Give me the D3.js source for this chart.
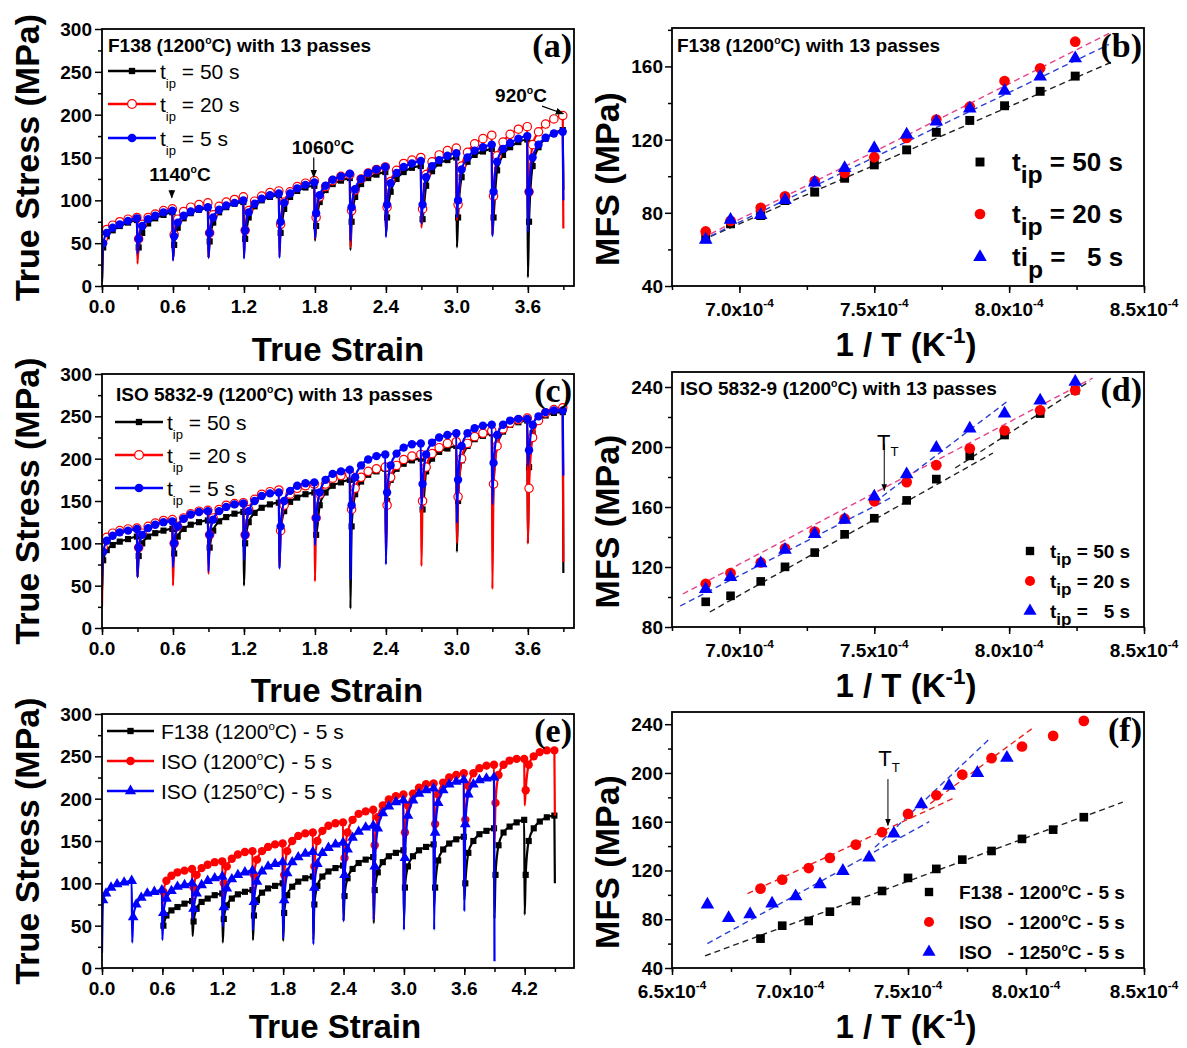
<!DOCTYPE html>
<html>
<head>
<meta charset="utf-8">
<script src="https://cdn.jsdelivr.net/npm/d3@7"></script>
<style>
body { margin: 0; background: #fff; }
svg text { font-family: "Liberation Sans", Arial, sans-serif; }
</style>
</head>
<body>
<script>
// ---------- data ----------
// every pass is 0.3 strain long, values read at these offsets inside a pass
const passOffsets = [0.01, 0.04, 0.09, 0.15, 0.22, 0.295];
const passStep = 0.3;

const strainTicks = [0, 0.6, 1.2, 1.8, 2.4, 3.0, 3.6];
const strainTicksE = [0, 0.6, 1.2, 1.8, 2.4, 3.0, 3.6, 4.2];
const stressTicks = [0, 50, 100, 150, 200, 250, 300];
const invTTicks = [7.0, 7.5, 8.0, 8.5];
const invTTicksF = [6.5, 7.0, 7.5, 8.0, 8.5];
const mfsTicksB = [40, 80, 120, 160];
const mfsTicksD = [80, 120, 160, 200, 240];
const mfsTicksF = [40, 80, 120, 160, 200, 240];

// (a) F138 1200C, 13 passes
const a50Start = 5;
const a50Passes = [
  [45, 58, 65, 70, 74, 77], [45, 62, 73, 79, 83, 86], [48, 68, 79, 85, 89, 91],
  [52, 74, 86, 92, 96, 98], [55, 80, 93, 100, 104, 106], [62, 90, 104, 111, 115, 117],
  [70, 98, 112, 119, 123, 126], [75, 104, 119, 126, 130, 133], [80, 110, 125, 133, 138, 140],
  [78, 117, 134, 143, 147, 150], [80, 127, 145, 153, 157, 160], [80, 135, 153, 162, 168, 171],
  [75, 140, 162, 172, 178, 182]];
const a50Drops = [35, 32, 33, 49, 53, 53, 42, 60, 72, 45, 60, 10, 112];

const a20Start = 10;
const a20Passes = [
  [55, 66, 71, 75, 78, 80], [55, 72, 80, 84, 88, 90], [60, 78, 87, 92, 95, 97],
  [62, 83, 93, 98, 101, 104], [65, 88, 99, 105, 109, 111], [72, 98, 110, 116, 120, 123],
  [80, 104, 116, 123, 128, 130], [88, 112, 125, 132, 136, 139], [92, 122, 135, 143, 147, 150],
  [90, 130, 145, 153, 158, 161], [95, 140, 156, 166, 172, 176], [105, 152, 168, 177, 183, 186],
  [110, 165, 180, 189, 195, 199]];
const a20Drops = [26, 30, 33, 35, 35, 55, 45, 60, 68, 77, 60, 75, 67];

const a5Start = 8;
const a5Passes = [
  [50, 62, 68, 72, 76, 79], [55, 70, 78, 82, 86, 88], [58, 74, 82, 87, 90, 92],
  [62, 80, 89, 94, 97, 100], [65, 86, 96, 102, 106, 108], [75, 97, 108, 114, 118, 121],
  [85, 106, 117, 124, 128, 131], [92, 113, 125, 132, 136, 139], [95, 120, 132, 139, 143, 146],
  [95, 127, 140, 147, 152, 155], [100, 136, 150, 158, 162, 165], [110, 145, 160, 167, 172, 175],
  [110, 150, 165, 173, 178, 180]];
const a5Drops = [38, 30, 33, 32, 33, 56, 53, 57, 73, 80, 58, 63, 100];

// (c) ISO 5832-9 1200C, 13 passes
const c50Start = 45;
const c50Passes = [
  [80, 92, 98, 102, 105, 108], [85, 100, 108, 112, 115, 117], [88, 108, 117, 122, 125, 127],
  [95, 115, 126, 131, 135, 137], [100, 125, 136, 142, 146, 148], [115, 138, 149, 154, 158, 160],
  [110, 145, 160, 168, 172, 175], [120, 158, 173, 181, 185, 188], [150, 175, 188, 194, 198, 200],
  [140, 185, 200, 208, 212, 215], [150, 198, 215, 223, 227, 230], [170, 215, 232, 240, 243, 245],
  [190, 230, 245, 251, 254, 255]];
const c50Drops = [60, 78, 82, 50, 72, 110, 23, 100, 140, 90, 125, 100, 65];

const c20Start = 25;
const c20Passes = [
  [95, 107, 112, 115, 117, 118], [95, 112, 120, 124, 127, 128], [100, 120, 130, 135, 138, 139],
  [110, 130, 140, 145, 147, 148], [110, 140, 152, 158, 161, 163], [115, 145, 158, 165, 168, 170],
  [130, 158, 170, 177, 180, 182], [140, 165, 178, 185, 188, 190], [145, 178, 192, 199, 203, 205],
  [150, 190, 206, 213, 218, 220], [155, 200, 218, 226, 230, 233], [170, 215, 235, 242, 246, 248],
  [165, 225, 245, 254, 258, 260]];
const c20Drops = [60, 50, 64, 100, 75, 55, 130, 85, 73, 100, 46, 100, 78];

const c5Start = 50;
const c5Passes = [
  [90, 103, 109, 113, 115, 117], [95, 110, 118, 122, 125, 126], [100, 120, 129, 134, 137, 138],
  [110, 128, 138, 143, 146, 147], [110, 138, 150, 156, 159, 160], [120, 150, 162, 168, 171, 172],
  [130, 160, 175, 182, 185, 187], [145, 178, 192, 199, 203, 205], [160, 192, 206, 213, 217, 218],
  [170, 205, 219, 225, 228, 230], [175, 215, 230, 236, 239, 240], [195, 228, 240, 245, 247, 247],
  [210, 240, 250, 255, 257, 257]];
const c5Drops = [60, 72, 67, 80, 70, 98, 57, 75, 140, 124, 146, 192, 180];

// (e) ISO 1250C, 5 s (F138 and ISO 1200C curves are the 5 s runs above, started at 0.6)
const e1250Start = 18;
const e1250Passes = [
  [80, 88, 95, 99, 101, 103], [60, 75, 83, 88, 90, 92], [65, 82, 91, 96, 98, 100],
  [70, 88, 98, 103, 106, 108], [72, 94, 105, 110, 113, 115], [78, 102, 114, 120, 123, 125],
  [80, 112, 125, 131, 135, 137], [95, 123, 136, 142, 146, 148], [110, 140, 154, 161, 166, 168],
  [120, 165, 183, 191, 196, 198], [130, 180, 198, 206, 210, 212], [160, 195, 210, 217, 220, 222],
  [170, 205, 217, 222, 224, 225]];
const e1250Drops = [30, 33, 58, 49, 45, 35, 28, 55, 57, 45, 45, 67, 8];
const eStartStrain = { f138: 0.6, iso1200: 0.6, iso1250: 0 };
const eStartStress = { f138: 45, iso1200: 70, iso1250: e1250Start };

// MFS vs 1/T (units of 1e-4 K^-1)
const invT = [6.875, 6.967, 7.079, 7.169, 7.279, 7.390, 7.500, 7.620, 7.730, 7.854, 7.983, 8.115, 8.245];
const invT1250 = [6.650, 6.740, 6.831, 6.924, 7.024, 7.127, 7.224, 7.335, 7.440, 7.556, 7.674, 7.794, 7.919];

const mfsB50 = [65.8, 74, 78.5, 86.7, 91.3, 98.9, 106.2, 114.4, 124, 130.5, 138.5, 146.4, 154.7];
const mfsB20 = [69.8, 75.6, 82.7, 89, 97.3, 101.8, 110.4, 120.9, 131, 138, 152, 159, 173.5];
const mfsB5 = [65.3, 76.2, 78.7, 87, 96.5, 104.5, 115.3, 122.7, 129.8, 137, 146.7, 154.5, 164.4];

const mfsD50 = [96.8, 100.8, 110.4, 120.1, 129.6, 141.8, 152.5, 164.4, 178.6, 194.1, 208, 222.3, 237.8];
const mfsD20 = [108.8, 115.9, 123, 132.5, 143.6, 152.2, 163.8, 176.6, 187.9, 199, 211, 224.5, 237.8];
const mfsD5 = [105.3, 113.2, 122.5, 131.4, 142, 151.4, 166.9, 181.7, 199.4, 212.3, 222.3, 230.9, 243.5];

const mfsF138 = [64.1, 74.7, 78.6, 86.2, 95, 103.2, 113.9, 121.3, 128.9, 136, 145.9, 153.5, 163.7];
const mfsFiso1200 = [105.1, 112.5, 122, 130.3, 141.2, 151.4, 166.4, 181.7, 198.7, 212.1, 221.7, 230.4, 242.7];
const mfsFiso1250 = [92, 81, 84, 92.8, 98.8, 108.7, 119.6, 130.6, 150.3, 174.3, 189.4, 200, 212.4];

// dashed fit segments [[x1,y1],[x2,y2]]
const fitB50 = [[6.86, 65], [8.39, 163]];
const fitB20 = [[6.86, 66], [8.37, 178]];
const fitB5 = [[6.86, 65], [8.37, 172]];
const fitD50a = [[6.89, 90], [7.94, 196]];
const fitD50b = [[7.80, 186], [8.30, 244]];
const fitD20 = [[6.79, 102], [8.31, 246]];
const fitD5a = [[6.78, 94], [7.56, 166]];
const fitD5b = [[7.50, 163], [7.99, 230]];
const fitFf138 = [[6.64, 50], [8.41, 176]];
const fitFiso1200a = [[6.82, 101], [7.69, 179]];
const fitFiso1200b = [[7.56, 170], [8.03, 237]];
const fitFiso1250a = [[6.65, 60], [7.59, 160]];
const fitFiso1250b = [[7.36, 139], [7.84, 227]];

// ---------- drawing ----------
const BLACK = "#000", RED = "#ff0000", BLUE = "#0000ff", PINK = "#e8408a";
const svg = d3.select("body").append("svg").attr("width", 1187).attr("height", 1048)
  .style("background", "#fff");
const defs = svg.append("defs");
defs.append("marker").attr("id", "arrow").attr("viewBox", "0 0 10 10")
  .attr("refX", 9).attr("refY", 5).attr("markerWidth", 7).attr("markerHeight", 7)
  .attr("orient", "auto-start-reverse")
  .append("path").attr("d", "M0,1 L10,5 L0,9 Z").attr("fill", "#000");

function rich(g, x, y, parts, size, weight, anchor) {
  const t = g.append("text").attr("x", x).attr("y", y).attr("font-size", size)
    .attr("font-weight", weight || "normal").attr("text-anchor", anchor || "start")
    .style("white-space", "pre");
  let shift = 0;
  parts.forEach(p => {
    let target = 0, txt = p, fs = size;
    if (typeof p !== "string") {
      txt = p.sup || p.sub;
      target = p.dy !== undefined ? p.dy : (p.sup ? -size * 0.42 : size * 0.3);
      fs = size * (p.scale || 0.6);
    }
    t.append("tspan").attr("dy", target - shift).attr("font-size", fs).text(txt);
    shift = target;
  });
  return t;
}

function frame(box, x, y, xMajor, xMinor, yMajor, yMinor) {
  const g = svg.append("g");
  const ax = (axis, tr) => g.append("g").attr("transform", tr).call(axis);
  ax(d3.axisBottom(x).tickValues(xMinor).tickSize(4).tickFormat(""), `translate(0,${box.b})`);
  ax(d3.axisBottom(x).tickValues(xMajor).tickSize(7).tickFormat(""), `translate(0,${box.b})`);
  ax(d3.axisLeft(y).tickValues(yMinor).tickSize(4).tickFormat(""), `translate(${box.l},0)`);
  ax(d3.axisLeft(y).tickValues(yMajor).tickSize(7).tickFormat(""), `translate(${box.l},0)`);
  g.selectAll(".domain").remove();
  g.selectAll(".tick line").attr("stroke", "#000").attr("stroke-width", 1.5);
  g.append("rect").attr("x", box.l).attr("y", box.t).attr("width", box.r - box.l)
    .attr("height", box.b - box.t).attr("fill", "none").attr("stroke", "#000").attr("stroke-width", 1.8);
  return g;
}

function symbolPath(kind, size) {
  const t = kind === "square" ? d3.symbolSquare : kind === "triangle" ? d3.symbolTriangle : d3.symbolCircle;
  return d3.symbol().type(t).size(size)();
}

function buildCurve(s0, v0, passes, drops) {
  const pts = [{ s: s0, v: v0, m: false }];
  passes.forEach((pv, k) => {
    const base = s0 + k * passStep;
    pv.forEach((v, j) => pts.push({ s: base + passOffsets[j], v: v, m: true }));
    pts.push({ s: base + passStep, v: drops[k], m: false });
  });
  return pts;
}

let clipN = 0;
function stressPanel(box, xMax, xTicks, series, letter) {
  const x = d3.scaleLinear().domain([0, xMax]).range([box.l, box.r]);
  const y = d3.scaleLinear().domain([0, 300]).range([box.b, box.t]);
  const xMinor = d3.range(0, xMax, 0.3);
  const yMinor = d3.range(25, 300, 50);
  const id = "clip" + (clipN++);
  defs.append("clipPath").attr("id", id).append("rect")
    .attr("x", box.l).attr("y", box.t).attr("width", box.r - box.l).attr("height", box.b - box.t);
  const g = svg.append("g").attr("clip-path", `url(#${id})`);
  const line = d3.line().x(d => x(d.s)).y(d => y(d.v)).curve(d3.curveMonotoneX);
  series.forEach(s => {
    const pts = buildCurve(s.s0, s.v0, s.passes, s.drops);
    g.append("path").datum(pts).attr("d", line).attr("fill", "none")
      .attr("stroke", s.color).attr("stroke-width", 2.2).attr("stroke-linejoin", "round");
    g.selectAll(null).data(pts.filter(d => d.m)).join("path")
      .attr("transform", d => `translate(${x(d.s)},${y(d.v)})`)
      .attr("d", symbolPath(s.shape, s.msize))
      .attr("fill", s.open ? "#fff" : s.color).attr("stroke", s.color).attr("stroke-width", s.open ? 1.2 : 0);
  });
  frame(box, x, y, xTicks, xMinor, stressTicks, yMinor);
  const lab = svg.append("g").attr("font-weight", "bold").attr("font-size", 19);
  xTicks.forEach(v => lab.append("text").attr("x", x(v)).attr("y", box.b + 27)
    .attr("text-anchor", "middle").text(d3.format(".1f")(v)));
  stressTicks.forEach(v => lab.append("text").attr("x", box.l - 10).attr("y", y(v) + 7)
    .attr("text-anchor", "end").text(v));
  svg.append("text").attr("x", box.r - 2).attr("y", box.t + 28).attr("text-anchor", "end")
    .style("font-family", "'Liberation Serif', 'Times New Roman', serif")
    .attr("font-weight", "bold").attr("font-size", 34).text(letter);
  const cy = (box.t + box.b) / 2;
  svg.append("text").attr("transform", `translate(39,${cy}) rotate(-90)`).attr("text-anchor", "middle")
    .attr("font-weight", "bold").attr("font-size", 34).text("True Stress (MPa)");
  return { x, y };
}

function invTLabel(g, x, y, v) {
  rich(g, x, y, [d3.format(".1f")(v) + "x10", { sup: "-4", scale: 0.62, dy: -9 }], 19, "bold", "middle");
}

function mfsPanel(box, xDom, yDom, xTicks, yTicks, groups, fits, letter) {
  const x = d3.scaleLinear().domain(xDom).range([box.l, box.r]);
  const y = d3.scaleLinear().domain(yDom).range([box.b, box.t]);
  const xMinor = d3.range(xDom[0], xDom[1] + 0.01, 0.25);
  const yMinor = d3.range(yTicks[0] + 20, yDom[1], 40);
  const g = svg.append("g");
  fits.forEach(f => g.append("line")
    .attr("x1", x(f.seg[0][0])).attr("y1", y(f.seg[0][1]))
    .attr("x2", x(f.seg[1][0])).attr("y2", y(f.seg[1][1]))
    .attr("stroke", f.color).attr("stroke-width", 1.4).attr("stroke-dasharray", "6,4"));
  groups.forEach(s => {
    g.selectAll(null).data(s.vals).join("path")
      .attr("transform", (d, i) => `translate(${x(s.xs[i])},${y(d)})`)
      .attr("d", symbolPath(s.shape, s.msize)).attr("fill", s.color);
  });
  frame(box, x, y, xTicks, xMinor, yTicks, yMinor);
  const lab = svg.append("g");
  xTicks.forEach(v => invTLabel(lab, x(v), box.b + 30, v));
  yTicks.forEach(v => lab.append("text").attr("x", box.l - 9).attr("y", y(v) + 7)
    .attr("text-anchor", "end").attr("font-weight", "bold").attr("font-size", 19).text(v));
  svg.append("text").attr("x", box.r - 2).attr("y", box.t + 29).attr("text-anchor", "end")
    .style("font-family", "'Liberation Serif', 'Times New Roman', serif")
    .attr("font-weight", "bold").attr("font-size", 34).text(letter);
  const cy = (box.t + box.b) / 2 + 22;
  svg.append("text").attr("transform", `translate(619,${cy}) rotate(-90)`).attr("text-anchor", "middle")
    .attr("font-weight", "bold").attr("font-size", 34).text("MFS (MPa)");
  rich(svg, (box.l + box.r) / 2 - 2, Math.min(box.b + 70, 1038), ["1 / T (K", { sup: "-1", scale: 0.68, dy: -13 }, ")"], 33, "bold", "middle");
  return { x, y };
}

function stressLegend(rows, x0, x1, tx, fs) {
  rows.forEach(r => {
    svg.append("line").attr("x1", x0).attr("x2", x1).attr("y1", r.y).attr("y2", r.y)
      .attr("stroke", r.color).attr("stroke-width", 2.5);
    svg.append("path").attr("transform", `translate(${(x0 + x1) / 2},${r.y})`)
      .attr("d", symbolPath(r.shape, r.msize)).attr("fill", r.open ? "#fff" : r.color)
      .attr("stroke", r.color).attr("stroke-width", r.open ? 1.3 : 0);
    rich(svg, tx, r.y + 8, r.parts, fs, "normal");
  });
}

function pointLegend(rows, sx, tx, fs) {
  rows.forEach(r => {
    svg.append("path").attr("transform", `translate(${sx},${r.y})`)
      .attr("d", symbolPath(r.shape, r.msize)).attr("fill", r.color);
    rich(svg, tx, r.y + fs * 0.36, r.parts, fs, "bold");
  });
}

const deg = { sup: "o", scale: 0.55 };
const tipSub = { sub: "ip", scale: 0.62, dy: 9 };

// ----- (a) -----
const boxA = { l: 102, r: 574, t: 29, b: 286 };
const pa = stressPanel(boxA, 3.99, strainTicks, [
  { s0: 0, v0: a50Start, passes: a50Passes, drops: a50Drops, color: BLACK, shape: "square", msize: 38 },
  { s0: 0, v0: a20Start, passes: a20Passes, drops: a20Drops, color: RED, shape: "circle", msize: 55, open: true },
  { s0: 0, v0: a5Start, passes: a5Passes, drops: a5Drops, color: BLUE, shape: "circle", msize: 55 }
], "(a)");
rich(svg, 108, 52, ["F138 (1200", deg, "C) with 13 passes"], 19, "bold");
stressLegend([
  { y: 71, color: BLACK, shape: "square", msize: 40, parts: ["t", tipSub, " = 50 s"] },
  { y: 104, color: RED, shape: "circle", msize: 60, open: true, parts: ["t", tipSub, " = 20 s"] },
  { y: 138, color: BLUE, shape: "circle", msize: 60, parts: ["t", tipSub, " = 5 s"] }
], 108, 156, 160, 21);
rich(svg, 180, 181, ["1140", deg, "C"], 19, "bold", "middle");
rich(svg, 323, 154, ["1060", deg, "C"], 19, "bold", "middle");
rich(svg, 521, 102, ["920", deg, "C"], 19, "bold", "middle");
svg.append("line").attr("x1", pa.x(0.59)).attr("y1", pa.y(112)).attr("x2", pa.x(0.59)).attr("y2", pa.y(103))
  .attr("stroke", "#000").attr("stroke-width", 1.2).attr("marker-end", "url(#arrow)");
svg.append("line").attr("x1", pa.x(1.79)).attr("y1", pa.y(150)).attr("x2", pa.x(1.79)).attr("y2", pa.y(127))
  .attr("stroke", "#000").attr("stroke-width", 1.2).attr("marker-end", "url(#arrow)");
svg.append("line").attr("x1", pa.x(3.72)).attr("y1", pa.y(210)).attr("x2", pa.x(3.9)).attr("y2", pa.y(201))
  .attr("stroke", "#000").attr("stroke-width", 1.2).attr("marker-end", "url(#arrow)");
svg.append("text").attr("x", 338).attr("y", 361).attr("text-anchor", "middle")
  .attr("font-weight", "bold").attr("font-size", 33).text("True Strain");

// ----- (b) -----
const boxB = { l: 672, r: 1144, t: 28, b: 286 };
mfsPanel(boxB, [6.75, 8.5], [40, 181], invTTicks, mfsTicksB, [
  { xs: invT, vals: mfsB50, color: BLACK, shape: "square", msize: 80 },
  { xs: invT, vals: mfsB20, color: RED, shape: "circle", msize: 90 },
  { xs: invT, vals: mfsB5, color: BLUE, shape: "triangle", msize: 80 }
], [
  { seg: fitB50, color: "#222" }, { seg: fitB20, color: PINK }, { seg: fitB5, color: "#2b3fd6" }
], "(b)");
rich(svg, 677, 52, ["F138 (1200", deg, "C) with 13 passes"], 19, "bold");
pointLegend([
  { y: 162, color: BLACK, shape: "square", msize: 80, parts: ["t", { sub: "ip", scale: 0.95, dy: 12 }, " = 50 s"] },
  { y: 214, color: RED, shape: "circle", msize: 90, parts: ["t", { sub: "ip", scale: 0.95, dy: 12 }, " = 20 s"] },
  { y: 257, color: BLUE, shape: "triangle", msize: 80, parts: ["ti", { sub: "p", scale: 0.95, dy: 12 }, " =   5 s"] }
], 980, 1012, 26);

// ----- (c) -----
const boxC = { l: 102, r: 574, t: 374, b: 628 };
stressPanel(boxC, 3.99, strainTicks, [
  { s0: 0, v0: c50Start, passes: c50Passes, drops: c50Drops, color: BLACK, shape: "square", msize: 38 },
  { s0: 0, v0: c20Start, passes: c20Passes, drops: c20Drops, color: RED, shape: "circle", msize: 55, open: true },
  { s0: 0, v0: c5Start, passes: c5Passes, drops: c5Drops, color: BLUE, shape: "circle", msize: 55 }
], "(c)");
rich(svg, 116, 401, ["ISO 5832-9 (1200", deg, "C) with 13 passes"], 19, "bold");
stressLegend([
  { y: 422, color: BLACK, shape: "square", msize: 40, parts: ["t", tipSub, " = 50 s"] },
  { y: 455, color: RED, shape: "circle", msize: 60, open: true, parts: ["t", tipSub, " = 20 s"] },
  { y: 488, color: BLUE, shape: "circle", msize: 60, parts: ["t", tipSub, " = 5 s"] }
], 115, 163, 167, 21);
svg.append("text").attr("x", 337).attr("y", 702).attr("text-anchor", "middle")
  .attr("font-weight", "bold").attr("font-size", 33).text("True Strain");

// ----- (d) -----
const boxD = { l: 672, r: 1144, t: 372, b: 627 };
const pd = mfsPanel(boxD, [6.75, 8.5], [80, 250], invTTicks, mfsTicksD, [
  { xs: invT, vals: mfsD50, color: BLACK, shape: "square", msize: 75 },
  { xs: invT, vals: mfsD20, color: RED, shape: "circle", msize: 90 },
  { xs: invT, vals: mfsD5, color: BLUE, shape: "triangle", msize: 80 }
], [
  { seg: fitD50a, color: "#222" }, { seg: fitD50b, color: "#222" }, { seg: fitD20, color: PINK },
  { seg: fitD5a, color: "#2b3fd6" }, { seg: fitD5b, color: "#2b3fd6" }
], "(d)");
rich(svg, 680, 395, ["ISO 5832-9 (1200", deg, "C) with 13 passes"], 19, "bold");
pointLegend([
  { y: 551, color: BLACK, shape: "square", msize: 70, parts: ["t", { sub: "ip", scale: 0.9, dy: 7 }, " = 50 s"] },
  { y: 581, color: RED, shape: "circle", msize: 80, parts: ["t", { sub: "ip", scale: 0.9, dy: 7 }, " = 20 s"] },
  { y: 611, color: BLUE, shape: "triangle", msize: 75, parts: ["t", { sub: "ip", scale: 0.9, dy: 7 }, " =   5 s"] }
], 1030, 1050, 19);
rich(svg, pd.x(7.55), pd.y(198) , ["T", { sub: "T", scale: 0.6, dy: 6 }], 22, "normal", "middle");
svg.append("line").attr("x1", pd.x(7.537)).attr("y1", pd.y(202)).attr("x2", pd.x(7.537)).attr("y2", pd.y(171))
  .attr("stroke", "#000").attr("stroke-width", 1).attr("marker-end", "url(#arrow)");

// ----- (e) -----
const boxE = { l: 102, r: 574, t: 714, b: 968 };
stressPanel(boxE, 4.69, strainTicksE, [
  { s0: eStartStrain.f138, v0: eStartStress.f138, passes: a5Passes, drops: a5Drops, color: BLACK, shape: "square", msize: 38 },
  { s0: eStartStrain.iso1200, v0: eStartStress.iso1200, passes: c5Passes, drops: c5Drops, color: RED, shape: "circle", msize: 55 },
  { s0: eStartStrain.iso1250, v0: eStartStress.iso1250, passes: e1250Passes, drops: e1250Drops, color: BLUE, shape: "triangle", msize: 50 }
], "(e)");
stressLegend([
  { y: 731, color: BLACK, shape: "square", msize: 40, parts: ["F138 (1200", deg, "C) - 5 s"] },
  { y: 761, color: RED, shape: "circle", msize: 60, parts: ["ISO (1200", deg, "C) - 5 s"] },
  { y: 791, color: BLUE, shape: "triangle", msize: 55, parts: ["ISO (1250", deg, "C) - 5 s"] }
], 107, 154, 161, 21);
svg.append("text").attr("x", 335).attr("y", 1038).attr("text-anchor", "middle")
  .attr("font-weight", "bold").attr("font-size", 33).text("True Strain");

// ----- (f) -----
const boxF = { l: 672, r: 1144, t: 712, b: 968 };
const pf = mfsPanel(boxF, [6.5, 8.5], [40, 250], invTTicksF, mfsTicksF, [
  { xs: invT, vals: mfsF138, color: BLACK, shape: "square", msize: 75 },
  { xs: invT, vals: mfsFiso1200, color: RED, shape: "circle", msize: 90 },
  { xs: invT1250, vals: mfsFiso1250, color: BLUE, shape: "triangle", msize: 80 }
], [
  { seg: fitFf138, color: "#222" }, { seg: fitFiso1200a, color: "#e82020" }, { seg: fitFiso1200b, color: "#e82020" },
  { seg: fitFiso1250a, color: "#2b3fd6" }, { seg: fitFiso1250b, color: "#2b3fd6" }
], "(f)");
pointLegend([
  { y: 892, color: BLACK, shape: "square", msize: 70, parts: ["F138 - 1200", deg, "C - 5 s"] },
  { y: 922, color: RED, shape: "circle", msize: 80, parts: ["ISO   - 1200", deg, "C - 5 s"] },
  { y: 952, color: BLUE, shape: "triangle", msize: 75, parts: ["ISO   - 1250", deg, "C - 5 s"] }
], 929, 959, 19);
rich(svg, pf.x(7.42), pf.y(206), ["T", { sub: "T", scale: 0.6, dy: 6 }], 22, "normal", "middle");
svg.append("line").attr("x1", pf.x(7.415)).attr("y1", pf.y(195)).attr("x2", pf.x(7.415)).attr("y2", pf.y(157))
  .attr("stroke", "#000").attr("stroke-width", 1).attr("marker-end", "url(#arrow)");
</script>
</body>
</html>
